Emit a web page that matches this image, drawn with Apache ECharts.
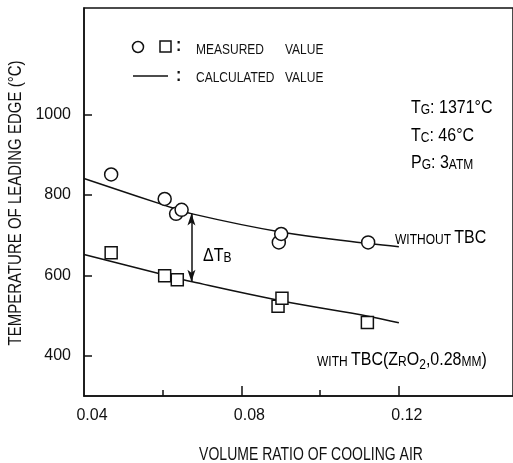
<!DOCTYPE html>
<html>
<head>
<meta charset="utf-8">
<script src="https://cdn.jsdelivr.net/npm/echarts@6/dist/echarts.min.js"></script>
<style>
  html, body { margin: 0; padding: 0; background: #fff; }
  #chart { width: 513px; height: 463px; }
</style>
</head>
<body>
<div id="chart"></div>
<script>
// Leading-edge temperature vs. cooling-air volume ratio
const FONT = "'Liberation Sans', 'DejaVu Sans', sans-serif";
const INK = '#111';

// Calculated curves
const calcX = [0.04, 0.06, 0.0675, 0.09, 0.1125, 0.12];
const calcWithout = [841, 776, 753, 708, 679, 671];
const calcWith = [652, 602, 584, 537, 498, 482];

// Measured values
const withoutX = [0.0469, 0.0605, 0.0634, 0.0648, 0.0895, 0.0901, 0.1122];
const withoutT = [851, 790, 753, 763, 682, 703, 682];
const withX = [0.0469, 0.0605, 0.0637, 0.0893, 0.0903, 0.1120];
const withT = [656, 599, 589, 523, 543, 483];

// Delta T_B marker (x position, upper and lower curve values)
const deltaX = 0.0673;
const deltaTop = 754;
const deltaBottom = 584;

// Axis ticks and labels
const xLongTicks = [0.08, 0.12];
const xShortTicks = [0.06, 0.10];
const xLabels = [0.04, 0.08, 0.12];
const yTicks = [400, 600, 800, 1000];

const zip = (xs, ys) => xs.map((x, i) => [x, ys[i]]);

const chart = echarts.init(document.getElementById('chart'), null, { renderer: 'canvas' });

const big = { fontFamily: FONT, fontSize: 16, color: INK };
const small = { fontFamily: FONT, fontSize: 12, color: INK, padding: [3, 0, 0, 0] };
const sub = { fontFamily: FONT, fontSize: 12, color: INK, padding: [9, 0, 0, 0] };
const TALL = 1.15; // vertical stretch for the narrow lettering

function label(x, y, text, extra) {
  return Object.assign({
    type: 'text', x: x, y: y, scaleY: TALL,
    style: { text: text, verticalAlign: 'middle', rich: { b: big, s: small, sub: sub } }
  }, extra || {});
}
function plain(x, y, text, size, extra) {
  return Object.assign({
    type: 'text', x: x, y: y, scaleY: TALL,
    style: { text: text, font: size + 'px ' + FONT, fill: INK, verticalAlign: 'middle' }
  }, extra || {});
}

const option = {
  animation: false,
  backgroundColor: '#fff',
  grid: {
    show: true, borderColor: INK, borderWidth: 1.5,
    left: 84, right: -5, top: 8, bottom: 67
  },
  xAxis: [{
    type: 'value', min: 0.04, max: 0.149,
    axisLine: { lineStyle: { color: INK, width: 1.5 } },
    splitLine: { show: false },
    axisTick: { inside: true, length: 10, customValues: xLongTicks, lineStyle: { color: INK, width: 1.5 } },
    axisLabel: {
      customValues: xLabels, margin: 12, padding: [0, 0, 0, 16],
      formatter: v => v.toFixed(2),
      fontFamily: FONT, fontSize: 16, color: INK
    }
  }, {
    type: 'value', min: 0.04, max: 0.149, position: 'bottom',
    axisLine: { show: false },
    splitLine: { show: false },
    axisTick: { inside: true, length: 6, customValues: xShortTicks, lineStyle: { color: INK, width: 1.5 } },
    axisLabel: { show: false }
  }],
  yAxis: {
    type: 'value', min: 300, max: 1265,
    axisLine: { show: true, lineStyle: { color: INK, width: 1.5 } },
    splitLine: { show: false },
    axisTick: { show: true, inside: true, length: 8, customValues: yTicks, lineStyle: { color: INK, width: 1.5 } },
    axisLabel: {
      customValues: yTicks, margin: 13, formatter: v => String(v),
      fontFamily: FONT, fontSize: 16, color: INK
    }
  },
  series: [
    {
      name: 'calc-without', type: 'line', smooth: 0.4, symbol: 'none',
      data: zip(calcX, calcWithout),
      lineStyle: { color: INK, width: 1.5 }, z: 2
    },
    {
      name: 'calc-with', type: 'line', smooth: 0.4, symbol: 'none',
      data: zip(calcX, calcWith),
      lineStyle: { color: INK, width: 1.5 }, z: 2,
      markLine: {
        silent: true, symbol: ['arrow', 'arrow'], symbolSize: [6, 12],
        label: { show: false },
        lineStyle: { color: INK, width: 1.5, type: 'solid' },
        data: [[{ coord: [deltaX, deltaTop] }, { coord: [deltaX, deltaBottom] }]]
      }
    },
    {
      name: 'without TBC', type: 'scatter', symbol: 'circle', symbolSize: 13,
      data: zip(withoutX, withoutT),
      itemStyle: { color: '#fff', borderColor: INK, borderWidth: 1.5, opacity: 1 }, z: 5
    },
    {
      name: 'with TBC', type: 'scatter', symbol: 'rect', symbolSize: 12,
      data: zip(withX, withT),
      itemStyle: { color: '#fff', borderColor: INK, borderWidth: 1.5, opacity: 1 }, z: 5
    }
  ],
  graphic: [
    // legend
    { type: 'circle', shape: { cx: 138, cy: 47, r: 5.5 }, style: { fill: '#fff', stroke: INK, lineWidth: 1.5 } },
    { type: 'rect', shape: { x: 160, y: 41, width: 11, height: 11 }, style: { fill: '#fff', stroke: INK, lineWidth: 1.5 } },
    plain(176, 46, ':', 16, { style: { text: ':', font: 'bold 16px ' + FONT, fill: INK, verticalAlign: 'middle' } }),
    plain(196, 50, 'MEASURED', 12),
    plain(285, 50, 'VALUE', 12),
    { type: 'line', shape: { x1: 133, y1: 76, x2: 168, y2: 76 }, style: { stroke: INK, lineWidth: 1.5 } },
    plain(176, 76, ':', 16, { style: { text: ':', font: 'bold 16px ' + FONT, fill: INK, verticalAlign: 'middle' } }),
    plain(196, 78, 'CALCULATED', 12),
    plain(285, 78, 'VALUE', 12),
    // conditions
    label(411, 108, '{b|T}{s|G}{b|: 1371°C}'),
    label(411, 136, '{b|T}{s|C}{b|: 46°C}'),
    label(411, 163, '{b|P}{s|G}{b|: 3}{s|ATM}'),
    // curve labels
    label(395, 238, '{s|WITHOUT} {b|TBC}'),
    label(317, 360, '{s|WITH} {b|TBC(Z}{s|R}{b|O}{sub|2}{b|,0.28}{s|MM}{b|)}'),
    label(203, 256, '{b|Δ}{b|T}{s|B}'),
    // axis titles
    {
      type: 'text', x: 311, y: 455, scaleY: 1.3,
      style: { text: 'VOLUME RATIO OF COOLING AIR', font: '14px ' + FONT, fill: INK, align: 'center', verticalAlign: 'middle' }
    },
    {
      type: 'text', x: 16, y: 203, rotation: Math.PI / 2, scaleY: 1.25,
      style: { text: 'TEMPERATURE OF LEADING EDGE (°C)', font: '15px ' + FONT, fill: INK, align: 'center', verticalAlign: 'middle' }
    }
  ]
};

chart.setOption(option);
</script>
</body>
</html>
